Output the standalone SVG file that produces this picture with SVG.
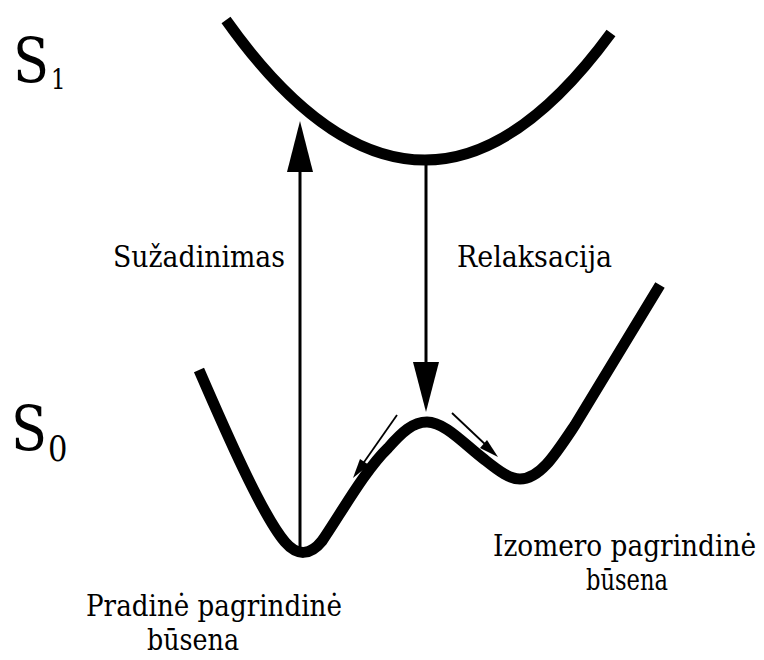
<svg xmlns="http://www.w3.org/2000/svg" width="764" height="660" viewBox="0 0 764 660">
<style>
.curve{fill:none;stroke:#000;stroke-width:11;stroke-linecap:butt;stroke-linejoin:round}
.ln{fill:none;stroke:#000;stroke-width:3}
.sm{fill:none;stroke:#000;stroke-width:1.8}
.hd{fill:#000;stroke:none}
text{fill:#000}
.sf{font-family:"DejaVu Serif","Liberation Serif",serif}
</style>
<rect width="764" height="660" fill="#fff"/>
<g id="S1">
  <path class="curve" d="M226,20 Q325.5,160 425,160 Q518,160 611,33"/>
  <text class="sf" transform="translate(13,82) scale(0.85,1)" x="0" y="0" font-size="62">S<tspan x="44.7" y="7" font-size="27">1</tspan></text>
</g>
<g id="S0">
  <path class="curve" d="M199,370 C225,430 262,515 285,542 C297,556 310,556 322,541 C340,515 365,470 388,448 C402,432 413,422 427,422 C445,422 465,445 485,460 C500,472 510,479 520,479 C540,479 555,455 575,425 L660,285"/>
  <text class="sf" transform="translate(11,450) scale(0.85,1)" x="0" y="0" font-size="62">S<tspan x="43.5" y="11" font-size="36">0</tspan></text>
</g>
<g id="connectors">
  <line class="ln" x1="300" y1="549" x2="300" y2="168"/>
  <polygon class="hd" points="300,121 287,172 313,172"/>
  <line class="ln" x1="426" y1="162" x2="426" y2="366"/>
  <polygon class="hd" points="426,412 413,362 439,362"/>
  <line class="sm" x1="397" y1="415" x2="362" y2="465"/>
  <polygon class="hd" points="353,478 369,465 360,459"/>
  <line class="sm" x1="452" y1="413" x2="488" y2="447"/>
  <polygon class="hd" points="498,457 480,448 487,440"/>
</g>
<g id="labels" class="sf" font-size="30">
  <text transform="translate(113,267) scale(0.78,1)" textLength="220.5" lengthAdjust="spacingAndGlyphs">Sužadinimas</text>
  <text transform="translate(457,267) scale(0.895,1)" textLength="173.2" lengthAdjust="spacingAndGlyphs">Relaksacija</text>
  <text transform="translate(86,616) scale(0.868,1)" textLength="294.9" lengthAdjust="spacingAndGlyphs">Pradinė pagrindinė</text>
  <text transform="translate(147,650) scale(0.845,1)" textLength="108.9" lengthAdjust="spacingAndGlyphs">būsena</text>
  <text transform="translate(493,556) scale(0.874,1)" textLength="300.9" lengthAdjust="spacingAndGlyphs">Izomero pagrindinė</text>
  <text transform="translate(586,590) scale(0.75,1)" textLength="109.3" lengthAdjust="spacingAndGlyphs">būsena</text>
</g>
</svg>
